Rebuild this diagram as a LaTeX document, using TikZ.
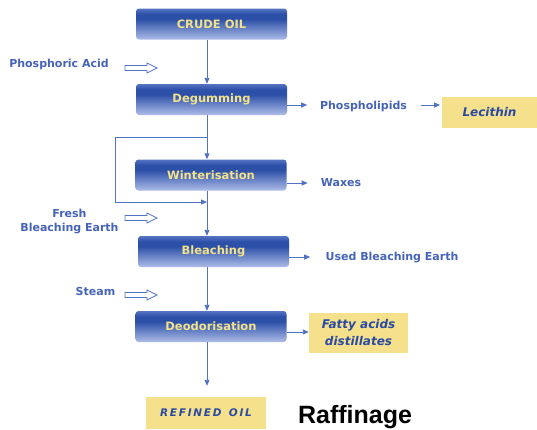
\documentclass[tikz,border=0pt]{standalone}
\usepackage{fontspec}
\setmainfont{DejaVu Sans}
\newfontfamily\arialfont{Liberation Sans}
\usetikzlibrary{arrows.meta}
\definecolor{lblue}{HTML}{4563B8}
\definecolor{lineblue}{HTML}{5272C4}
\definecolor{boxtop}{HTML}{5573C2}
\definecolor{boxdark}{HTML}{2C50A8}
\definecolor{boxbot}{HTML}{AEBCE8}
\definecolor{boxtext}{HTML}{F2E28A}
\definecolor{ybox}{HTML}{F5E08C}
\definecolor{ytext}{HTML}{2A4AA2}
\pgfdeclareverticalshading{boxshade}{100bp}{color(0bp)=(boxbot); color(25bp)=(boxbot); color(58bp)=(boxdark); color(66bp)=(boxdark); color(75bp)=(boxtop); color(100bp)=(boxtop)}
\tikzset{
  stepbox/.style={shading=boxshade, rounded corners=3pt, minimum width=151pt, minimum height=31pt,
    inner sep=0pt, text=boxtext, font=\bfseries\fontsize{11.5}{13}\selectfont},
  outbox/.style={fill=ybox, minimum width=99pt, minimum height=40pt, inner sep=0pt,
    text=ytext, font=\bfseries\itshape\fontsize{12}{17}\selectfont, align=center},
  lbl/.style={text=lblue, inner sep=0pt, font=\bfseries\fontsize{11}{14}\selectfont, align=center},
  arr/.style={draw=lineblue, line width=0.9pt, -{Triangle[length=6pt,width=5pt]}},
  hollow/.style={draw=lineblue, line width=0.8pt, fill=white}
}
\begin{document}
\begin{tikzpicture}[x=1pt,y=-1pt]
\useasboundingbox (0,0) rectangle (537,429);
% main process boxes
\node[stepbox] (crude)  at (211.5,24)   {CRUDE OIL};
\node[stepbox] (degum)  at (211.5,99.5) {Degumming};
\node[stepbox] (winter) at (211,175)    {Winterisation};
\node[stepbox] (bleach) at (213.5,251.5){Bleaching};
\node[stepbox] (deodor) at (211,326.5)  {Deodorisation};
\node[outbox, minimum width=120pt, minimum height=32pt, font=\bfseries\itshape\fontsize{10.5}{12}\selectfont] (refined) at (206,413) {\raisebox{-4pt}{R\,E\,F\,I\,N\,E\,D\ \ O\,I\,L}};
\node[font=\arialfont\bfseries\fontsize{25}{27}\selectfont, inner sep=0pt, anchor=base] (raff) at (355,423) {Raffinage};
% axis coordinates
\coordinate (mainx) at (207,0);
\coordinate (loopx) at (115,0);
\coordinate (split) at (207,137.5);
\coordinate (join)  at (207,202);
% main flow
\draw[arr] (crude.south -| mainx) -- (degum.north -| mainx);
\draw[arr] (degum.south -| mainx) -- (winter.north -| mainx);
\draw[arr] (split) -| (loopx |- join) -- (join);
\draw[arr] (winter.south -| mainx) -- (bleach.north -| mainx);
\draw[arr] (bleach.south -| mainx) -- (deodor.north -| mainx);
\draw[arr, shorten >=11pt] (deodor.south -| mainx) -- (refined.north -| mainx);
% inputs
\node[lbl] (phacid) at (59,64) {Phosphoric Acid};
\node[lbl] (fresh) at (69.5,222) {Fresh\\Bleaching Earth};
\node[lbl] (steam) at (95.5,291) {Steam};
\coordinate (h1) at (125,68);
\coordinate (h2) at (125,218);
\coordinate (h3) at (125,295);
\foreach \h in {h1,h2,h3}{
  \draw[hollow] (\h) ++(0,-2.5) -- ++(22,0) -- ++(0,-2.5) -- ++(10,5) -- ++(-10,5) -- ++(0,-2.5) -- ++(-22,0) -- cycle;
}
% outputs
\node[lbl] (phos) at (363.5,106) {Phospholipids};
\node[outbox, minimum width=96pt, minimum height=31pt] (lec) at (489.5,112.5) {Lecithin};
\node[lbl] (waxes) at (341,182.5) {Waxes};
\node[lbl] (used) at (392,257.5) {Used Bleaching Earth};
\node[outbox] (fatty) at (358.5,333) {Fatty acids\\distillates};
\draw[arr] (degum.east |- 0,105) -- ++(20,0);
\draw[arr] (phos.east |- 0,105) ++(14,0) -- ++(19,0);
\draw[arr] (winter.east |- 0,183) -- ++(21,0);
\draw[arr] (bleach.east |- 0,257) -- ++(21,0);
\draw[arr] (deodor.east |- 0,332) -- (fatty.west |- 0,332);
\end{tikzpicture}
\end{document}
